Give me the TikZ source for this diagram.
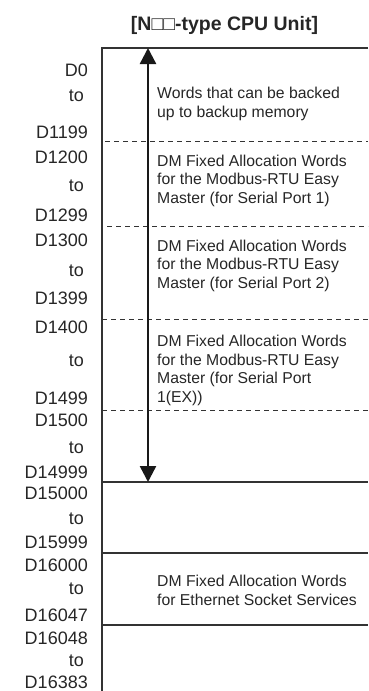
\documentclass[tikz,border=0pt]{standalone}
\usepackage{fontspec}
\setmainfont{Liberation Sans}
\usetikzlibrary{arrows.meta,positioning}

\begin{document}
\begin{tikzpicture}[x=1pt, y=-1pt, >={Triangle[length=16pt,width=16pt]},
  every node/.style={inner sep=0pt, text=black!85},
  addr/.style={anchor=base east, font=\fontsize{18}{18}\selectfont},
  desc/.style={anchor=base west, align=left, font=\fontsize{15.75}{18.5}\selectfont},
  rule/.style={line width=1.2pt, draw=black!80},
  sep/.style={line width=1pt, dash pattern=on 5pt off 4pt, draw=black!80}]
\useasboundingbox (0,0) rectangle (368,691);
% heading
\node[anchor=base, font=\bfseries\fontsize{19.5}{22}\selectfont] (title) at (224.5,30) {[N□□-type CPU Unit]};
% area frame and boundaries
\draw[rule] (368,48) -- (102,48) -- (102,695);
\draw[sep] (105,141.5) -- (368,141.5);
\draw[sep] (107,226) -- (368,226);
\draw[sep] (102,319) -- (368,319);
\draw[sep] (102,410) -- (368,410);
\foreach \yy in {482,553,625}
  \draw[rule] (102,\yy) -- (368,\yy);
% addresses
\foreach \lab/\yy in {D0/76, D1199/138, D1200/163, D1299/221, D1300/246, D1399/304,
    D1400/333, D1499/404, D1500/426, D14999/478, D15000/499, D15999/548,
    D16000/571, D16047/621, D16048/644, D16383/688}
  \node[addr] (\lab) at (88,\yy) {\lab};
\foreach \yy in {101,191,276,366,453,524,594,666}
  \node[addr] (to\yy) at (84,\yy) {to};
% backup range
\coordinate (bktop) at (148,48);
\coordinate (bkbot) at (148,482);
\draw[<->, line width=2.4pt, black!90] (bktop) -- (bkbot);
% area descriptions (base = last line)
\node[desc] (backup) at (157,117) {Words that can be backed\\up to backup memory};
\node[desc] (port1) at (157,203) {DM Fixed Allocation Words\\for the Modbus-RTU Easy\\Master (for Serial Port 1)};
\node[desc] (port2) at (157,288) {DM Fixed Allocation Words\\for the Modbus-RTU Easy\\Master (for Serial Port 2)};
\node[desc] (portex) at (157,402) {DM Fixed Allocation Words\\for the Modbus-RTU Easy\\Master (for Serial Port\\1(EX))};
\node[desc] (socket) at (157,605) {DM Fixed Allocation Words\\for Ethernet Socket Services};
\end{tikzpicture}
\end{document}
